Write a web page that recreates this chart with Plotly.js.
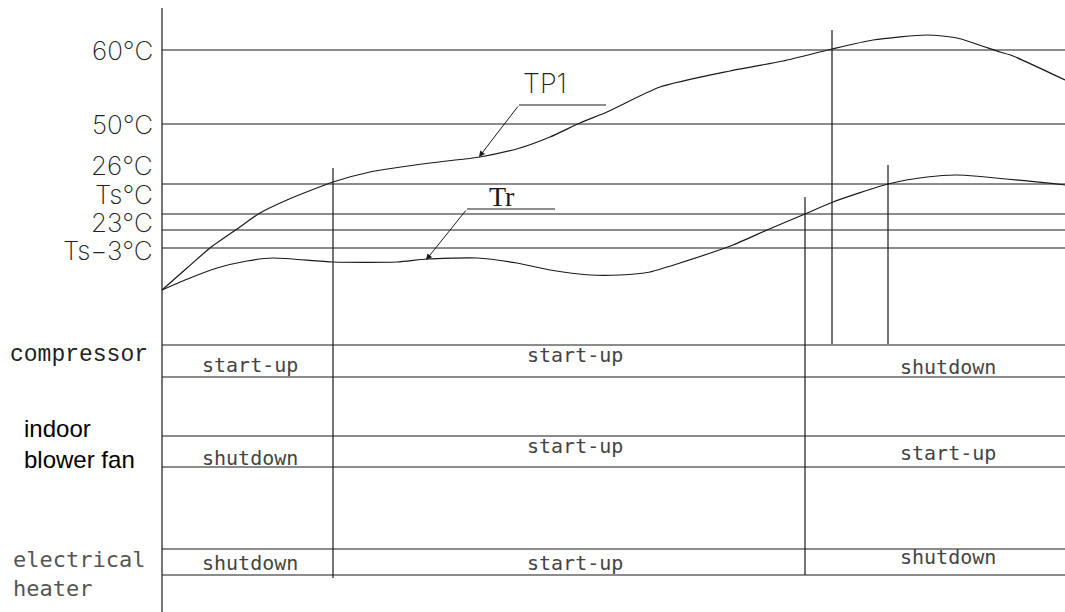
<!DOCTYPE html>
<html>
<head>
<meta charset="utf-8">
<script src="https://cdn.plot.ly/plotly-3.0.1.min.js"></script>
<style>
  html, body { margin: 0; padding: 0; background: #fff; }
  #chart { width: 1065px; height: 612px; }
</style>
</head>
<body>
<div id="chart"></div>
<script>
// Diagram units: x = time axis position, y = level (drawn top-down)
const tp1X = [162, 187, 210, 237, 260, 287, 333, 370, 430, 480, 520, 550, 580, 607, 660, 730, 783, 832, 873, 927, 957, 1000, 1013, 1065];
const tp1Y = [290, 268, 248, 229, 213, 200, 182, 172, 163, 157, 148, 137, 123, 112, 87, 71, 61, 49, 40, 35, 38, 52, 56, 80];

const trX = [162, 190, 217, 247, 273, 333, 397, 427, 477, 517, 550, 590, 620, 650, 680, 733, 767, 805, 833, 888, 927, 957, 1065];
const trY = [290, 278, 268, 261, 258, 262, 262, 259, 258, 263, 270, 275, 275, 272, 263, 245, 230, 214, 202, 184, 177, 175, 185];

// temperature reference levels
const tempLevels = [50, 124, 184, 214, 230, 248];
const tempLabels = ['60°C', '50°C', '26°C', 'Ts°C', '23°C', 'Ts\u22123°C'];
const tempLabelY = [50, 124, 165, 194, 222, 250];

// state band lines
const bandLines = [345, 377, 436, 467, 549, 575];
const rowNames = ['compressor', 'indoor<br>blower fan', 'electrical<br>heater'];
const rowNameY = [355, 444, 574];

// switching events
const eventX = [333, 805, 832, 888];
const eventTop = [168, 197, 30, 165];
const eventBottom = [578, 575, 344, 344];

// state texts per column
const colCenters = [250, 575, 948];
const compressorStates = ['start-up', 'start-up', 'shutdown'];
const compressorY = [365, 355, 367];
const fanStates = ['shutdown', 'start-up', 'start-up'];
const fanY = [458, 446, 453];
const heaterStates = ['shutdown', 'start-up', 'shutdown'];
const heaterY = [563, 563, 557];

const xLeft = 162, xRight = 1065, axisTop = 8, axisBottom = 612;

const CAD_FONT = 'DejaVu Sans Mono';
const THIN_FONT = 'Inter';
const INK = '#1a1a1a';

// build segment traces
function segments(list) {
    const x = [], y = [];
    list.forEach(s => { x.push(s[0], s[2], null); y.push(s[1], s[3], null); });
    return { x, y };
}

const hSegs = segments([...tempLevels, ...bandLines].map(v => [xLeft, v, xRight, v]));
const vSegs = segments(eventX.map((x, i) => [x, eventTop[i], x, eventBottom[i]])
    .concat([[xLeft, axisTop, xLeft, axisBottom]]));
const leaderSegs = segments([[519, 105, 606, 105], [467, 209, 555, 209]]);

const lineStyle = { color: INK, width: 1.2 };
const traces = [
    { x: hSegs.x, y: hSegs.y, mode: 'lines', line: lineStyle, hoverinfo: 'skip' },
    { x: vSegs.x, y: vSegs.y, mode: 'lines', line: lineStyle, hoverinfo: 'skip' },
    { x: leaderSegs.x, y: leaderSegs.y, mode: 'lines', line: { color: INK, width: 1 }, hoverinfo: 'skip' },
    { x: tp1X, y: tp1Y, name: 'TP1', mode: 'lines', line: { color: INK, width: 1.2, shape: 'spline', smoothing: 0.6 } },
    { x: trX, y: trY, name: 'Tr', mode: 'lines', line: { color: INK, width: 1.2, shape: 'spline', smoothing: 0.6 } }
];

const annotations = [];
function label(x, y, text, font, anchor) {
    annotations.push({ x, y, xref: 'x', yref: 'y', text, showarrow: false,
        xanchor: anchor || 'center', yanchor: 'middle', font });
}

const tempFont = { family: THIN_FONT, size: 26, weight: 200, color: '#222' };
tempLabels.forEach((t, i) => label(155, tempLabelY[i], t, tempFont, 'right'));

label(545, 83, 'TP1', { family: THIN_FONT, size: 27, weight: 200, color: '#222' });
label(502, 196, 'Tr', { family: 'Liberation Serif', size: 28, color: INK });

// leader arrows
[[479, 157, 519, 105], [426, 260, 467, 209]].forEach(a => {
    annotations.push({ x: a[0], y: a[1], ax: a[2], ay: a[3], xref: 'x', yref: 'y', axref: 'x', ayref: 'y',
        text: '', showarrow: true, arrowhead: 2, arrowsize: 1.2, arrowwidth: 1, arrowcolor: INK });
});

label(8, rowNameY[0], rowNames[0], { family: 'Liberation Mono', size: 23, color: '#222' }, 'left');
annotations.push({ x: 22, y: rowNameY[1], xref: 'x', yref: 'y', text: rowNames[1], showarrow: false,
    xanchor: 'left', yanchor: 'middle', align: 'left', font: { family: 'Liberation Sans', size: 24, color: '#000' } });
annotations.push({ x: 11, y: rowNameY[2], xref: 'x', yref: 'y', text: rowNames[2], showarrow: false,
    xanchor: 'left', yanchor: 'middle', align: 'left', font: { family: CAD_FONT, size: 22, color: '#555' } });

const stateFont = { family: CAD_FONT, size: 20, color: '#444' };
colCenters.forEach((cx, i) => {
    label(cx, compressorY[i], compressorStates[i], stateFont);
    label(cx, fanY[i], fanStates[i], stateFont);
    label(cx, heaterY[i], heaterStates[i], stateFont);
});

const layout = {
    width: 1065,
    height: 612,
    margin: { l: 0, r: 0, t: 0, b: 0 },
    paper_bgcolor: '#fff',
    plot_bgcolor: '#fff',
    showlegend: false,
    xaxis: { range: [0, 1065], visible: false, fixedrange: true },
    yaxis: { range: [612, 0], visible: false, fixedrange: true },
    annotations
};

Plotly.newPlot('chart', traces, layout, { staticPlot: true, displayModeBar: false });
</script>
</body>
</html>
